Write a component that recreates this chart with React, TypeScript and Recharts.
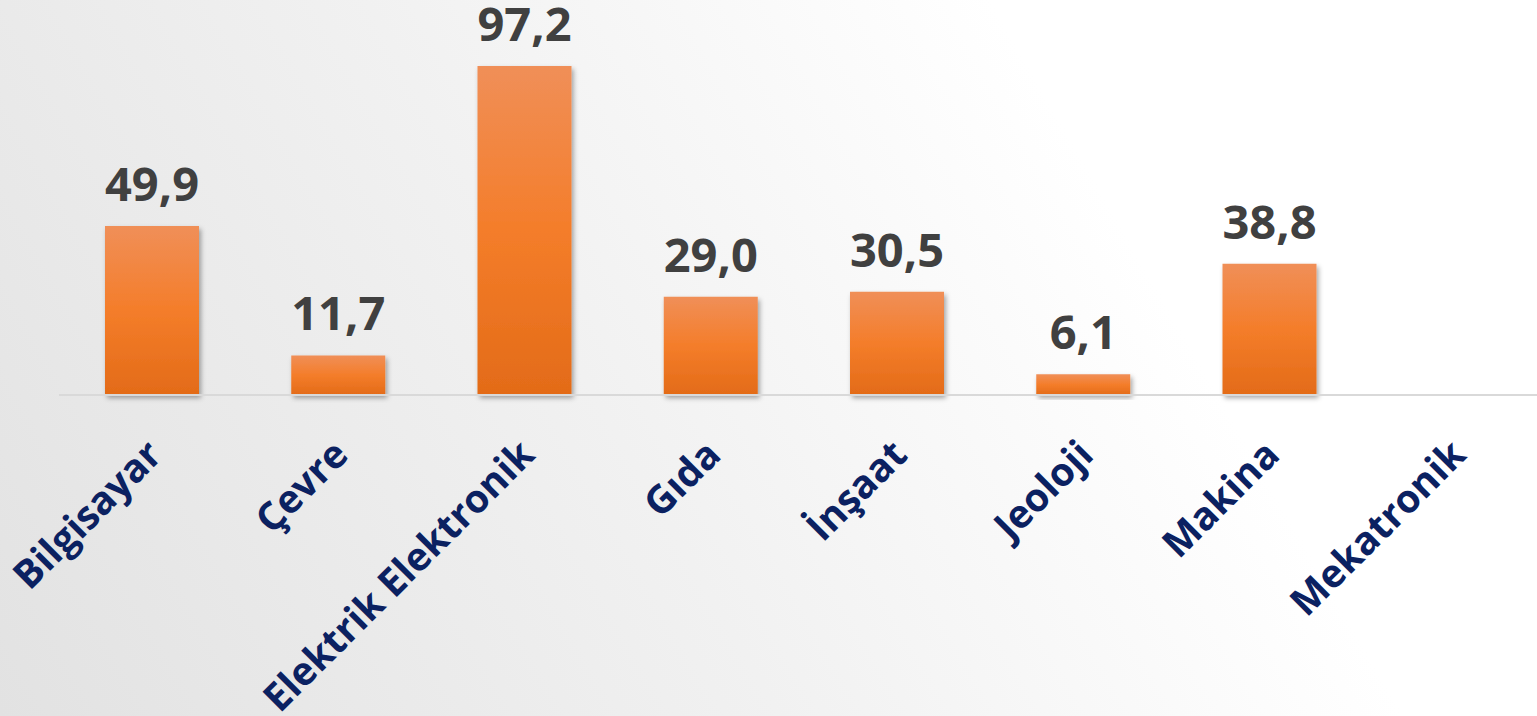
import { BarChart, Bar, XAxis, YAxis, LabelList } from 'recharts'

const departments = ['Bilgisayar', 'Çevre', 'Elektrik Elektronik', 'Gıda', 'İnşaat', 'Jeoloji', 'Makina', 'Mekatronik']
const percentages: (number | null)[] = [49.9, 11.7, 97.2, 29.0, 30.5, 6.1, 38.8, null]

const chartData = departments.map((name, i) => ({ name, value: percentages[i] }))

function DeptTick(props: any) {
  const { x, y, payload } = props
  return (
    <g transform={`translate(${x + 12},${y + 62})`}>
      <text
        transform="rotate(-45)"
        textAnchor="end"
        fill="#0b2161"
        fontSize={39}
        fontWeight={700}
        fontFamily="'Open Sans', sans-serif"
      >
        {payload.value}
      </text>
    </g>
  )
}

function ValueLabel(props: any) {
  const { x, y, width, value } = props
  if (value == null) return null
  return (
    <text
      x={x + width / 2}
      y={y - 25}
      textAnchor="middle"
      fill="#404040"
      fontSize={47}
      fontWeight={700}
      fontFamily="'Open Sans', sans-serif"
    >
      {Number(value).toFixed(1).replace('.', ',')}
    </text>
  )
}

export default function App() {
  return (
    <div
      style={{
        position: 'fixed',
        inset: 0,
        overflow: 'hidden',
        background: 'linear-gradient(60deg, #e2e2e2 0%, #f1f1f1 40%, #ffffff 72%)',
      }}
    >
      <BarChart
        width={1549}
        height={716}
        data={chartData}
        margin={{ top: 56.5, right: 0, left: 59, bottom: 0 }}
      >
        <defs>
          <linearGradient id="barFill" x1="0" y1="0" x2="0" y2="1">
            <stop offset="0%" stopColor="#f08f58" />
            <stop offset="50%" stopColor="#f47d2a" />
            <stop offset="100%" stopColor="#e36b18" />
          </linearGradient>
          <filter id="barShadow" x="-20%" y="-20%" width="140%" height="140%">
            <feDropShadow dx="2" dy="3" stdDeviation="2.5" floodColor="#000" floodOpacity="0.35" />
          </filter>
        </defs>
        <XAxis
          dataKey="name"
          interval={0}
          height={321}
          tickLine={false}
          tickSize={0}
          tickMargin={0}
          axisLine={{ stroke: '#d9d9d9', strokeWidth: 2 }}
          tick={<DeptTick />}
        />
        <YAxis hide domain={[0, 100]} />
        <Bar
          dataKey="value"
          barSize={94}
          fill="url(#barFill)"
          filter="url(#barShadow)"
          isAnimationActive={false}
        >
          <LabelList dataKey="value" content={<ValueLabel />} />
        </Bar>
      </BarChart>
    </div>
  )
}
